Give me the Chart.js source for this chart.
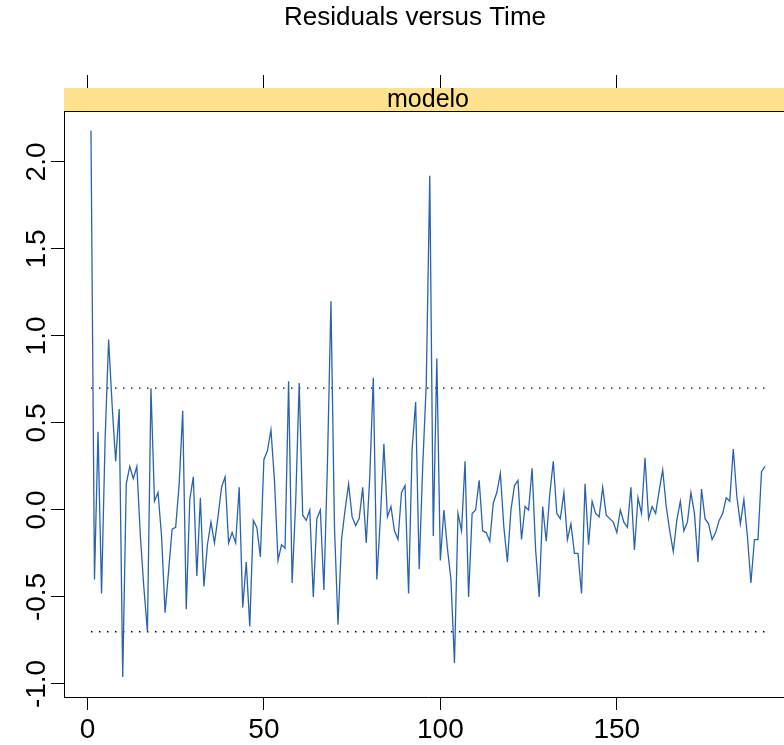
<!DOCTYPE html>
<html>
<head>
<meta charset="utf-8">
<script src="https://cdn.jsdelivr.net/npm/chart.js@4.4.1/dist/chart.umd.min.js"></script>
<style>
    html, body { margin: 0; padding: 0; background: #fff; overflow: hidden; }
    #wrap { width: 784px; height: 745px; overflow: hidden; position: relative; }
    #wrap canvas { position: absolute; left: 0; top: 0; }
</style>
</head>
<body>
<div id="wrap"><canvas id="resChart" width="830" height="745" style="width:830px;height:745px"></canvas></div>
<script>
const residuals = [
    2.18, -0.40, 0.45, -0.48, 0.40, 0.98, 0.60, 0.28, 0.58, -0.96,
    0.15, 0.25, 0.18, 0.25, -0.15, -0.45, -0.70, 0.70, 0.05, 0.10,
    -0.15, -0.59, -0.35, -0.11, -0.10, 0.15, 0.57, -0.57, 0.06, 0.19,
    -0.38, 0.07, -0.44, -0.20, -0.07, -0.19, -0.04, 0.13, 0.19, -0.19,
    -0.13, -0.19, 0.13, -0.56, -0.30, -0.67, -0.06, -0.10, -0.27, 0.29,
    0.34, 0.46, 0.17, -0.29, -0.20, -0.22, 0.74, -0.42, 0.04, 0.73,
    -0.03, -0.06, 0.00, -0.50, -0.05, 0.00, -0.46, 0.26, 1.20, -0.10,
    -0.66, -0.17, 0.00, 0.15, -0.04, -0.09, -0.05, 0.13, -0.19, 0.19,
    0.76, -0.40, -0.05, 0.38, -0.04, 0.02, -0.12, -0.17, 0.10, 0.14,
    -0.48, 0.35, 0.62, -0.34, 0.25, 0.72, 1.92, -0.15, 0.87, -0.29,
    0.00, -0.22, -0.40, -0.88, -0.02, -0.12, 0.28, -0.50, -0.02, 0.00,
    0.17, -0.12, -0.13, -0.18, 0.04, 0.10, 0.21, -0.10, -0.30, 0.00,
    0.14, 0.17, -0.17, 0.02, 0.00, 0.24, -0.23, -0.50, 0.02, -0.18,
    0.09, 0.28, -0.02, -0.05, 0.10, -0.17, -0.08, -0.25, -0.25, -0.48,
    0.15, -0.20, 0.05, -0.02, -0.04, 0.13, -0.03, -0.05, -0.07, -0.13,
    0.00, -0.07, -0.10, 0.13, -0.23, 0.07, -0.02, 0.30, -0.05, 0.02,
    -0.02, 0.11, 0.23, 0.02, -0.12, -0.24, -0.06, 0.05, -0.12, -0.07,
    0.10, -0.02, -0.30, 0.12, -0.05, -0.08, -0.17, -0.13, -0.06, -0.02,
    0.07, 0.05, 0.35, 0.08, -0.08, 0.06, -0.15, -0.42, -0.17, -0.17,
    0.22, 0.25
]
const time = residuals.map((v, i) => i + 1)
const bandLimits = [0.7, -0.7]
const xTicks = [0, 50, 100, 150]
const yTicks = [-1.0, -0.5, 0.0, 0.5, 1.0, 1.5, 2.0]
const panelName = 'modelo'
const chartTitle = 'Residuals versus Time'

const FONT = '"Liberation Sans", Arial, sans-serif'

// lattice style: 4% padding on the x range, strip on top of the panel
const pad = 0.04 * (time[time.length - 1] - time[0])
const xMin = time[0] - pad
const xMax = time[time.length - 1] + pad
const yMin = -1.075
const yMax = 2.425

// main title, centred on the whole device like lattice does
const titlePlugin = {
    id: 'mainTitle',
    afterDraw(chart) {
        const { ctx } = chart
        ctx.save()
        ctx.fillStyle = '#000'
        ctx.font = '26px ' + FONT
        ctx.textAlign = 'center'
        ctx.textBaseline = 'middle'
        ctx.fillText(chartTitle, chart.width / 2, 18)
        ctx.restore()
    }
}

const stripPlugin = {
    id: 'strip',
    beforeDatasetsDraw(chart) {
        const { ctx, chartArea } = chart
        const h = 23
        ctx.save()
        ctx.fillStyle = '#ffe28f'
        ctx.fillRect(chartArea.left, chartArea.top, chartArea.right - chartArea.left, h)
        ctx.strokeStyle = '#000'
        ctx.lineWidth = 1
        ctx.beginPath()
        ctx.moveTo(chartArea.left, chartArea.top + h + 0.5)
        ctx.lineTo(chartArea.right, chartArea.top + h + 0.5)
        ctx.stroke()
        ctx.fillStyle = '#000'
        ctx.font = '25px ' + FONT
        ctx.textAlign = 'center'
        ctx.textBaseline = 'middle'
        ctx.fillText(panelName, (chartArea.left + chartArea.right) / 2, chartArea.top + h / 2 + 1)
        ctx.restore()
    }
}

// rotated y tick labels, like R's default las=0
const yLabelPlugin = {
    id: 'yLabels',
    afterDraw(chart) {
        const { ctx } = chart
        const scale = chart.scales.y
        ctx.save()
        ctx.fillStyle = '#000'
        ctx.font = '28px ' + FONT
        ctx.textAlign = 'center'
        ctx.textBaseline = 'alphabetic'
        scale.ticks.forEach(t => {
            const y = scale.getPixelForValue(t.value)
            ctx.save()
            ctx.translate(scale.right - 19, y)
            ctx.rotate(-Math.PI / 2)
            ctx.fillText(t.value.toFixed(1), 0, 0)
            ctx.restore()
        })
        ctx.restore()
    }
}

const tickSet = list => scale => { scale.ticks = list.map(v => ({ value: v })) }

new Chart(document.getElementById('resChart'), {
    type: 'line',
    data: {
        datasets: [
            {
                data: time.map((t, i) => ({ x: t, y: residuals[i] })),
                borderColor: '#2a63ad',
                borderWidth: 1.3,
                pointRadius: 0,
                tension: 0,
                fill: false
            },
            ...bandLimits.map(v => ({
                data: [{ x: time[0], y: v }, { x: time[time.length - 1], y: v }],
                borderColor: '#000',
                borderWidth: 1.4,
                borderDash: [1.5, 6.5],
                pointRadius: 0,
                fill: false
            }))
        ]
    },
    options: {
        responsive: false,
        animation: false,
        devicePixelRatio: 1,
        layout: { padding: { left: 0, right: 38, top: 0, bottom: 0 } },
        plugins: {
            legend: { display: false },
            tooltip: { enabled: false },
            title: { display: false }
        },
        scales: {
            x: {
                type: 'linear',
                position: 'bottom',
                min: xMin,
                max: xMax,
                afterBuildTicks: tickSet(xTicks),
                ticks: { color: '#000', font: { family: FONT, size: 28 }, padding: 3, maxRotation: 0, autoSkip: false },
                grid: { drawOnChartArea: false, tickLength: 13, color: '#000' },
                border: { display: true, color: '#000', width: 1 },
                afterFit: s => { s.height = 48 }
            },
            xTop: {
                type: 'linear',
                position: 'top',
                min: xMin,
                max: xMax,
                afterBuildTicks: tickSet(xTicks),
                ticks: { display: false },
                grid: { drawOnChartArea: false, tickLength: 13, color: '#000' },
                border: { display: true, color: '#000', width: 1 },
                afterFit: s => { s.height = 88 }
            },
            y: {
                type: 'linear',
                position: 'left',
                min: yMin,
                max: yMax,
                afterBuildTicks: tickSet(yTicks),
                ticks: { display: false },
                grid: { drawOnChartArea: false, tickLength: 13, color: '#000' },
                border: { display: true, color: '#000', width: 1 },
                afterFit: s => { s.width = 64 }
            }
        }
    },
    plugins: [titlePlugin, stripPlugin, yLabelPlugin]
})
</script>
</body>
</html>
